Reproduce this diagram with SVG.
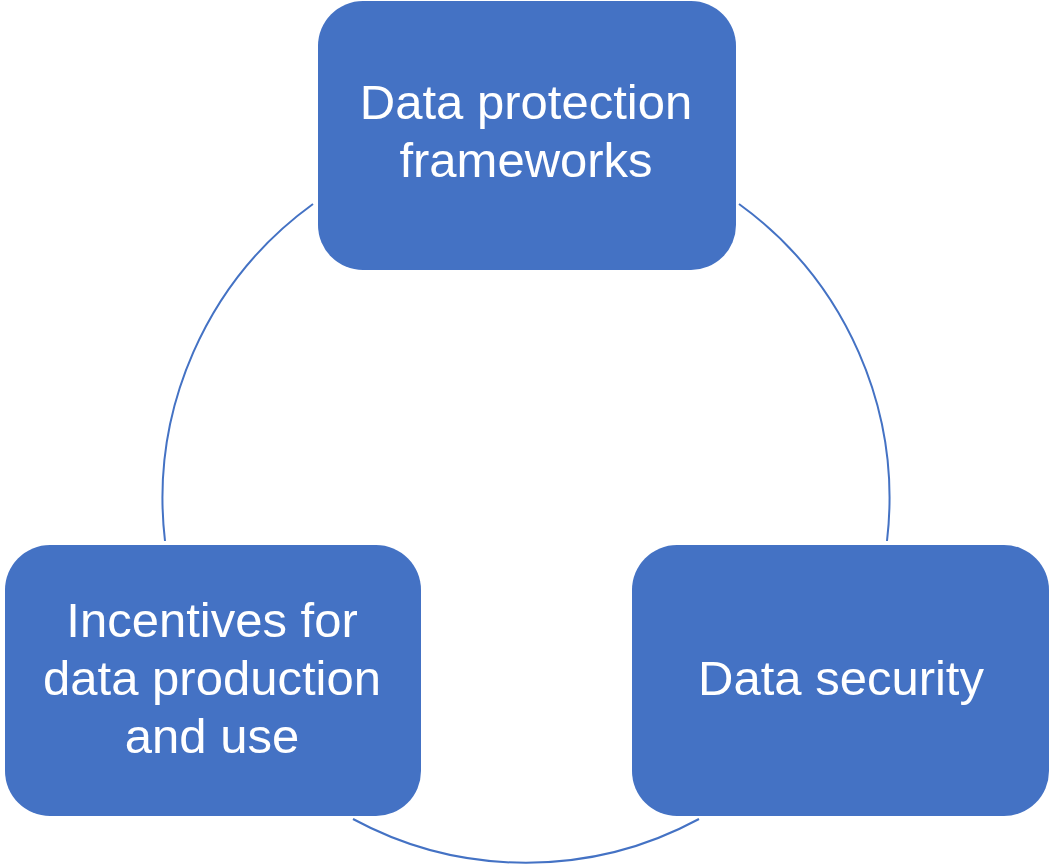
<svg xmlns="http://www.w3.org/2000/svg" width="1051" height="865" viewBox="0 0 1051 865">
  <style>
    .box { fill: #4472C4; }
    .arc { fill: none; stroke: #4472C4; stroke-width: 2; }
    .label { fill: #FFFFFF; font-family: "Liberation Sans", Arial, sans-serif; font-size: 49px; text-anchor: middle; }
  </style>
  <rect width="1051" height="865" fill="#FFFFFF"/>

  <!-- ring segments between the three boxes (circle centre 526,499, r 364) -->
  <g id="connectors">
    <path class="arc" d="M 313 204 A 364 364 0 0 0 165 541"/>
    <path class="arc" d="M 739 204 A 364 364 0 0 1 887 541"/>
    <path class="arc" d="M 353 819 A 364 364 0 0 0 699 819"/>
  </g>

  <g id="node-frameworks">
    <rect class="box" x="318" y="1" width="418" height="269" rx="45" ry="45"/>
    <text class="label" x="526" y="119">Data protection</text>
    <text class="label" x="526" y="177">frameworks</text>
  </g>

  <g id="node-incentives">
    <rect class="box" x="5" y="545" width="416" height="271" rx="45" ry="45"/>
    <text class="label" x="212" y="637">Incentives for</text>
    <text class="label" x="212" y="695">data production</text>
    <text class="label" x="212" y="753">and use</text>
  </g>

  <g id="node-security">
    <rect class="box" x="632" y="545" width="417" height="271" rx="45" ry="45"/>
    <text class="label" x="841" y="695">Data security</text>
  </g>
</svg>
